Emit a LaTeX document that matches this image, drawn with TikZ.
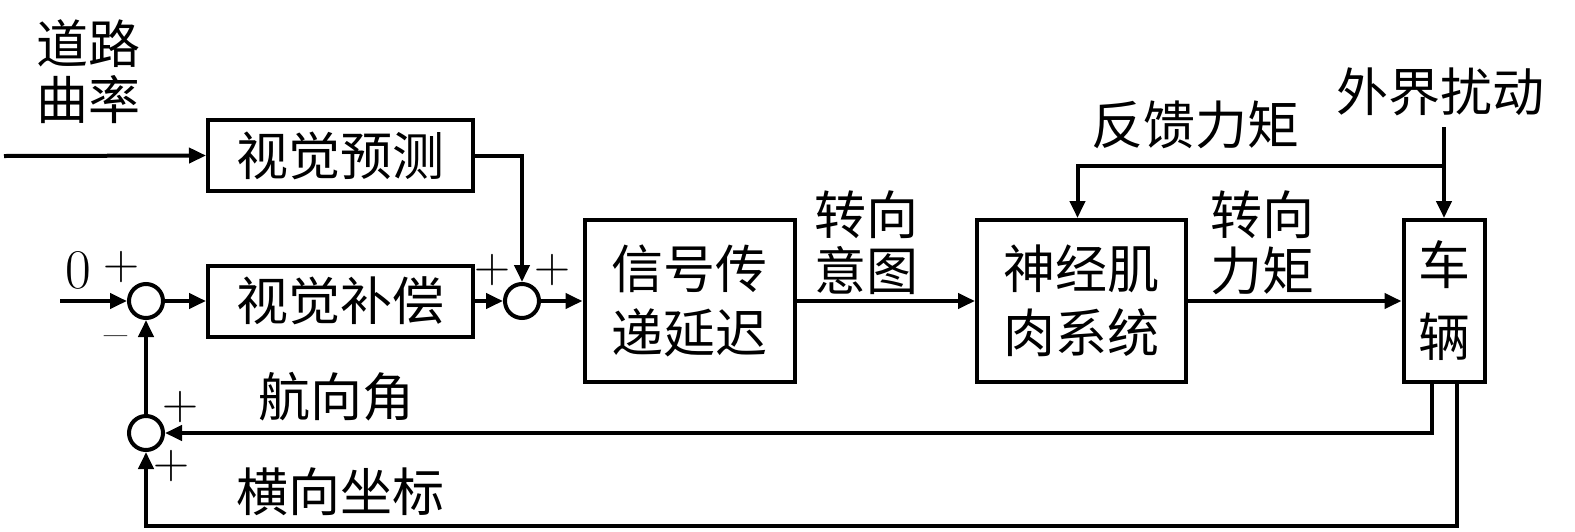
\documentclass[tikz,border=0pt]{standalone}
\usepackage{fontspec}
\newfontfamily\cjk{Noto Sans CJK SC}
\usetikzlibrary{arrows.meta}
\begin{document}
\begin{tikzpicture}[x=1pt,y=-1pt, line width=4pt,
  blk/.style={draw, line width=4pt, font=\cjk\fontsize{52}{64}\selectfont, align=center, inner sep=0pt},
  sumc/.style={circle, draw, line width=4pt, minimum size=34pt, inner sep=0pt, fill=white},
  lbl/.style={font=\cjk\fontsize{52}{56}\selectfont, align=center, inner sep=0pt},
  sgn/.style={font=\fontsize{50}{56}\selectfont, inner sep=0pt},
  arr/.style={-{Triangle[length=17pt,width=15pt]}, line width=4pt}]
\useasboundingbox (0,0) rectangle (1575,531);
% blocks
\node[blk, minimum width=265pt, minimum height=71pt] (vp) at (340.5,155.5) {视觉预测};
\node[blk, minimum width=265pt, minimum height=71pt] (vb) at (340.5,301) {视觉补偿};
\node[blk, minimum width=210pt, minimum height=162pt] (xh) at (689.5,301) {信号传\\递延迟};
\node[blk, minimum width=209pt, minimum height=162pt] (sj) at (1081.5,301) {神经肌\\肉系统};
\node[blk, minimum width=81pt, minimum height=162pt] (cl) at (1444,301) {车\\[8pt]辆};
% summing junctions
\node[sumc] (s1) at (146,301) {};
\node[sumc] (s2) at (522,301) {};
\node[sumc] (s3) at (146,433) {};
% labels
\node[lbl] (road) at (88,72) {道路\\曲率};
\node[lbl] (zy) at (866,243) {转向\\意图};
\node[lbl] (zl) at (1262,243) {转向\\力矩};
\node[lbl] (fk) at (1195,125) {反馈力矩};
\node[lbl] (wj) at (1440,92) {外界扰动};
\node[lbl] (hx) at (336,397) {航向角};
\node[lbl] (hz) at (340,492) {横向坐标};
\node[font=\fontsize{56}{64}\selectfont, inner sep=0pt] (zero) at (78,270) {0};
\node[sgn] (p1) at (121,267) {+};
\node[sgn] (m1) at (116,343) {–};
\node[sgn] (p2) at (492,270) {+};
\node[sgn] (p3) at (552,270) {+};
\node[sgn] (p4) at (180,407) {+};
\node[sgn] (p5) at (171,466) {+};
% coordinates
\coordinate (rin) at (4,156);
\coordinate (zin) at (60,301);
\coordinate (dtop) at (1444,127);
\coordinate (br) at (1444,166);
\coordinate (bl) at (146,526);
% connectors
\draw[arr] (rin) -- (vp.west);
\draw[arr] (vp.east) -| (s2.north);
\draw[arr] (zin) -- (s1.west);
\draw[arr] (s1) -- (vb);
\draw[arr] (vb) -- (s2);
\draw[arr] (s2) -- (xh);
\draw[arr] (xh) -- (sj);
\draw[arr] (sj) -- (cl);
\draw[arr] (dtop) -- (cl.north);
\draw[arr] (br) -| ([xshift=-4pt]sj.north);
\draw[arr] ([xshift=-12pt]cl.south) |- (s3.east);
\draw[arr] ([xshift=13pt]cl.south) |- (bl) -- (s3.south);
\draw[arr] (s3) -- (s1);
\end{tikzpicture}
\end{document}
